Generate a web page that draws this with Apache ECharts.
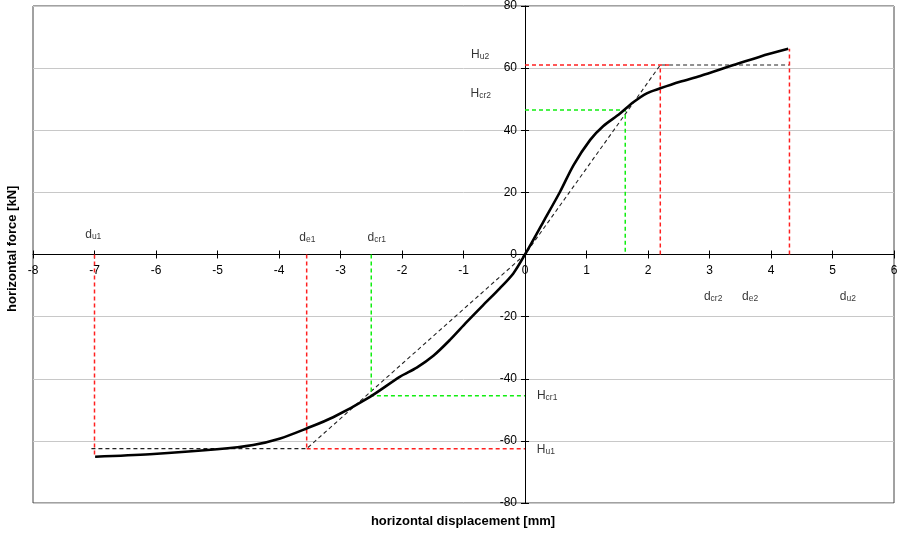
<!DOCTYPE html>
<html><head><meta charset="utf-8">
<script src="https://cdn.jsdelivr.net/npm/echarts@6/dist/echarts.min.js"></script>
<style>html,body{margin:0;padding:0;background:#fff}#c{width:901px;height:536px}</style>
</head><body><div id="c"></div>
<script>
// main curve: displacement [mm], force [kN]
const curveX = [-6.99,-6.1,-5.01,-4.42,-3.98,-3.55,-3.12,-2.52,-2.03,-1.76,-1.49,-1.22,-0.95,-0.68,-0.41,-0.19,0,0.30,0.57,0.79,1.06,1.27,1.54,1.76,1.98,2.2,2.52,2.85,3.39,3.82,4.28];
const curveY = [-65.1,-64.3,-62.7,-61.3,-59.2,-56.0,-52.4,-45.8,-39.3,-36.4,-32.6,-27.5,-21.8,-16.3,-10.9,-6.1,0,10.6,20.2,28.8,36.9,41.3,45.3,49.0,51.9,53.5,55.6,57.5,61.0,63.7,66.2];
// characteristic values
const du1 = -7.0, de1 = -3.55, dcr1 = -2.5, dcr2 = 1.63, de2 = 2.2, du2 = 4.3;
const Hu1 = -62.5, Hcr1 = -45.5, Hcr2 = 46.5, Hu2 = 61.0, Hend1 = -65.1, Hend2 = 66.2;
// text labels [x, y, main, sub]
const labels = [
  [-0.73, 64.6, 'H', 'u2'],
  [-0.72, 52.0, 'H', 'cr2'],
  [-7.02, 6.6, 'd', 'u1'],
  [-3.54, 5.6, 'd', 'e1'],
  [-2.41, 5.6, 'd', 'cr1'],
  [3.06, -13.4, 'd', 'cr2'],
  [3.66, -13.4, 'd', 'e2'],
  [5.25, -13.4, 'd', 'u2'],
  [0.36, -45.2, 'H', 'cr1'],
  [0.34, -62.6, 'H', 'u1']
];
const xTicks = {min: -8, max: 6, step: 1};
const yTicks = {min: -80, max: 80, step: 20};

const FONT = 'Liberation Sans, Arial, sans-serif';
const RED = '#ff2020', GREEN = '#11ee11', BLK = '#000';
const G = {left: 33, right: 7, top: 6, bottom: 33, w: 901, h: 536};
const gw = G.w - G.left - G.right, gh = G.h - G.top - G.bottom;
const xOff = -gh * (0 - yTicks.min) / (yTicks.max - yTicks.min);
const yOff = -gw * (0 - xTicks.min) / (xTicks.max - xTicks.min);

function dashed(data, color, w) {
  return {type: 'line', data: data, symbol: 'none', silent: true, z: 2,
    lineStyle: {color: color, width: w || 1.5, type: [4, 3]}, animation: false};
}
const series = [
  dashed([[du1 - 0.05, Hu1], [de1, Hu1], [0, 0], [de2, Hu2], [du2, Hu2]], '#222', 1.1),
  dashed([[du1, 0], [du1, Hend1]], RED),
  dashed([[de1, 0], [de1, Hu1]], RED),
  dashed([[de1, Hu1], [0, Hu1]], RED),
  dashed([[0, Hu2], [de2 + 0.15, Hu2]], RED),
  dashed([[de2, 0], [de2, Hu2]], RED),
  dashed([[du2, 0], [du2, Hend2]], RED),
  dashed([[dcr1, 0], [dcr1, Hcr1], [0, Hcr1]], GREEN),
  dashed([[0, Hcr2], [dcr2, Hcr2], [dcr2, 0]], GREEN),
  {type: 'line', smooth: 0.3, symbol: 'none', z: 5, animation: false,
   data: curveX.map((x, i) => [x, curveY[i]]),
   lineStyle: {color: BLK, width: 2.6}},
  {type: 'scatter', symbolSize: 0, z: 6, animation: false, silent: true,
   data: labels.map(l => ({value: [l[0], l[1]],
     label: {show: true, position: 'inside', formatter: '{m|' + l[2] + '}{s|' + l[3] + '}'}})),
   label: {rich: {
     m: {fontFamily: FONT, fontSize: 12, color: '#000', lineHeight: 14, verticalAlign: 'bottom'},
     s: {fontFamily: FONT, fontSize: 8.5, color: '#000', lineHeight: 14, verticalAlign: 'bottom'}
   }}}
];

const tickAxis = (inside) => ({
  axisLine: {onZero: false, show: !inside, lineStyle: {color: '#000', width: 1}},
  axisTick: {show: true, length: 4, inside: inside, lineStyle: {color: '#000'}}
});

const chart = echarts.init(document.getElementById('c'), null, {renderer: 'canvas'});
chart.setOption({
  backgroundColor: '#fff',
  animation: false,
  grid: {left: G.left, right: G.right, top: G.top, bottom: G.bottom, show: true, borderColor: '#444', borderWidth: 1, containLabel: false},
  xAxis: [
    Object.assign({type: 'value', min: xTicks.min, max: xTicks.max, interval: xTicks.step,
      position: 'bottom', offset: xOff,
      axisLabel: {fontFamily: FONT, fontSize: 12, color: '#000', margin: 10, showMinLabel: true, showMaxLabel: true},
      splitLine: {show: false}}, tickAxis(false)),
    Object.assign({type: 'value', min: xTicks.min, max: xTicks.max, interval: xTicks.step,
      position: 'bottom', offset: xOff, axisLabel: {show: false}, splitLine: {show: false}}, tickAxis(true))
  ],
  yAxis: [
    Object.assign({type: 'value', min: yTicks.min, max: yTicks.max, interval: yTicks.step,
      position: 'left', offset: yOff,
      axisLabel: {fontFamily: FONT, fontSize: 12, color: '#000', margin: 8, showMinLabel: true, showMaxLabel: true},
      splitLine: {show: true, lineStyle: {color: '#c8c8c8', width: 1}}}, tickAxis(false)),
    Object.assign({type: 'value', min: yTicks.min, max: yTicks.max, interval: yTicks.step,
      position: 'left', offset: yOff, axisLabel: {show: false}, splitLine: {show: false}}, tickAxis(true))
  ],
  graphic: [
    {type: 'text', x: 463, y: 515, style: {text: 'horizontal displacement [mm]', font: 'bold 13px ' + FONT, fill: '#000', align: 'center', verticalAlign: 'top'}},
    {type: 'text', x: 6, y: 312, rotation: Math.PI / 2, style: {text: 'horizontal force [kN]', font: 'bold 13px ' + FONT, fill: '#000', align: 'left', verticalAlign: 'top'}}
  ],
  series: series
});
</script></body></html>
